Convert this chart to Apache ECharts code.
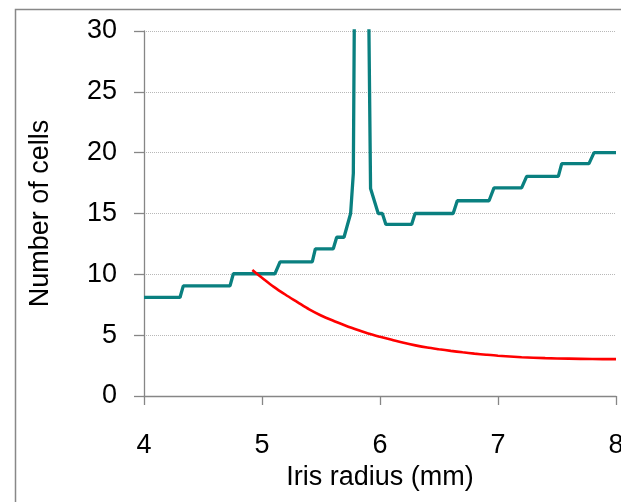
<!DOCTYPE html>
<html>
<head>
<meta charset="utf-8">
<script src="https://cdn.jsdelivr.net/npm/echarts@6/dist/echarts.min.js"></script>
<style>
html,body{margin:0;padding:0;background:#fff;overflow:hidden;}
#chart{width:621px;height:502px;}
</style>
</head>
<body>
<div id="chart"></div>
<script>
// Teal step series (x = iris radius mm, y = number of cells)
const tealX = [4.0, 4.305, 4.333, 4.729, 4.757, 5.11, 5.153, 5.426, 5.452, 5.604, 5.633, 5.695, 5.751, 5.774, 5.795, 5.885, 5.92, 5.985, 6.02, 6.05, 6.268, 6.297, 6.62, 6.655, 6.924, 6.966, 7.20, 7.243, 7.511, 7.54, 7.771, 7.814, 8.0];
const tealY = [8.1, 8.1, 9.05, 9.05, 10.05, 10.05, 11.03, 11.03, 12.1, 12.1, 13.05, 13.05, 15.0, 18.3, 50, 50, 17.05, 15.0, 15.0, 14.1, 14.1, 15.0, 15.0, 16.05, 16.05, 17.1, 17.1, 18.05, 18.05, 19.1, 19.1, 20.0, 20.0];
// Red curve
const redX = [4.918, 5.0, 5.1, 5.2, 5.3, 5.4, 5.5, 5.6, 5.7, 5.8, 5.9, 6.0, 6.1, 6.2, 6.3, 6.4, 6.5, 6.6, 6.7, 6.8, 6.9, 7.0, 7.2, 7.4, 7.6, 7.8, 8.0];
const redY = [10.35, 9.72, 8.97, 8.32, 7.72, 7.12, 6.62, 6.2, 5.82, 5.46, 5.14, 4.87, 4.62, 4.37, 4.16, 3.98, 3.84, 3.71, 3.59, 3.48, 3.39, 3.31, 3.19, 3.11, 3.07, 3.04, 3.03];
// Axis ticks
const xTicks = [4, 5, 6, 7, 8];
const yTicks = [0, 5, 10, 15, 20, 25, 30];
const xTitle = 'Iris radius (mm)';
const yTitle = 'Number of cells';

const FONT = '"Liberation Sans", Arial, sans-serif';
const chart = echarts.init(document.getElementById('chart'), null, {renderer: 'canvas', width: 621, height: 502});
const axisGray = '#868686';
chart.setOption({
  animation: false,
  backgroundColor: '#ffffff',
  graphic: [{
    type: 'rect', left: 13, top: 7, z: -10,
    shape: {width: 700, height: 600},
    style: {fill: 'none', stroke: '#888888', lineWidth: 1.5}
  }],
  grid: {left: 144, width: 472, top: 31, height: 365, containLabel: false, outerBoundsMode: 'none'},
  xAxis: {
    type: 'value', min: xTicks[0], max: xTicks[xTicks.length - 1], interval: 1,
    name: xTitle, nameLocation: 'middle', nameGap: 68,
    nameTextStyle: {fontFamily: FONT, fontSize: 27, color: '#000'},
    axisLine: {show: true, lineStyle: {color: axisGray, width: 1.3}},
    axisTick: {show: true, inside: false, length: 9, lineStyle: {color: axisGray, width: 1.3}},
    axisLabel: {margin: 36, fontFamily: FONT, fontSize: 27, color: '#000', hideOverlap: false},
    splitLine: {show: false}
  },
  yAxis: {
    type: 'value', min: yTicks[0], max: yTicks[yTicks.length - 1], interval: 5,
    name: yTitle, nameLocation: 'middle', nameGap: 90, nameRotate: 90,
    nameTextStyle: {fontFamily: FONT, fontSize: 27, color: '#000'},
    axisLine: {show: true, lineStyle: {color: axisGray, width: 1.3}},
    axisTick: {show: true, inside: false, length: 10, lineStyle: {color: axisGray, width: 1.3}},
    axisLabel: {margin: 27, fontFamily: FONT, fontSize: 27, color: '#000'},
    splitLine: {show: true, lineStyle: {color: '#b8b8b8', width: 1, type: 'dotted'}}
  },
  series: [
    {
      type: 'line', name: 'teal', clip: true, showSymbol: false, symbol: 'none',
      data: tealX.map((x, i) => [x, tealY[i]]),
      lineStyle: {color: '#0a8080', width: 3.3},
      z: 3
    },
    {
      type: 'line', name: 'red', clip: true, showSymbol: false, symbol: 'none',
      smooth: 0.3,
      data: redX.map((x, i) => [x, redY[i]]),
      lineStyle: {color: '#ff0000', width: 2.6},
      z: 4
    }
  ]
});
</script>
</body>
</html>
